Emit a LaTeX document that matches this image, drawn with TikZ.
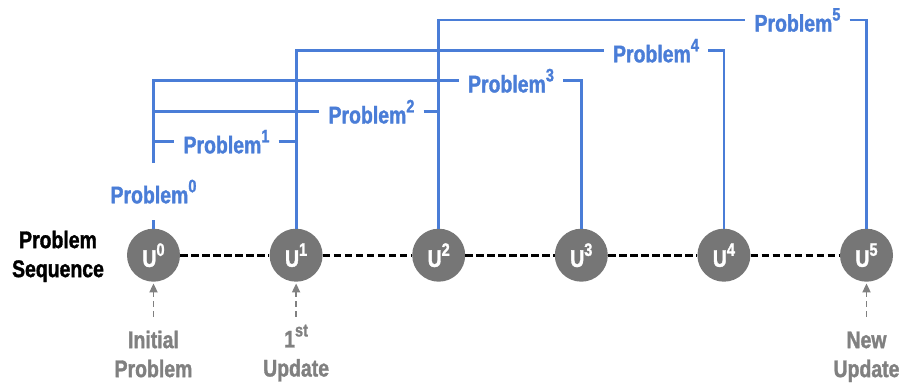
\documentclass[tikz,border=0pt]{standalone}
\usepackage{fontspec}
\setmainfont{Liberation Sans}[FakeStretch=0.81, BoldFeatures={FakeBold=1.4}]
\usetikzlibrary{arrows.meta}
\definecolor{pblue}{RGB}{74,125,215}
\definecolor{cgray}{RGB}{118,118,118}
\definecolor{tgray}{RGB}{128,128,128}
\newcommand{\psup}[1]{\raisebox{11pt}{\fontsize{18}{18}\selectfont #1}}
\begin{document}
\begin{tikzpicture}[x=1pt,y=-1pt,
  txt/.style={font=\fontsize{24}{29}\selectfont\bfseries},
  ucirc/.style={circle, fill=cgray, minimum size=53pt, inner sep=0pt, txt, text=white},
  plabel/.style={txt, text=pblue, inner xsep=9pt, inner ysep=0pt},
  bline/.style={pblue, line width=2.8pt},
  seq/.style={black, line width=3pt, dash pattern=on 7.5pt off 3.5pt},
  upd/.style={tgray, line width=1.8pt, dash pattern=on 6pt off 4pt, -{Triangle[length=9pt,width=8pt]}},
  glabel/.style={txt, text=tgray, align=center, inner sep=0pt, anchor=north},
]
\useasboundingbox (0,0) rectangle (901,383);
% sequence circles
\foreach \k/\x in {0/153.5,1/296.1,2/438.7,3/581.3,4/723.9,5/866.5}
  \node[ucirc] (U\k) at (\x,255.2) {U\psup{\k}};
\foreach \a/\b in {0/1,1/2,2/3,3/4,4/5}
  \draw[seq] (U\a.east) -- (U\b.west);
% problem labels
\node[plabel, inner ysep=16.5pt] (P0) at (153.5,191.6) {Problem\psup{0}};
\node[plabel] (P1) at (226.5,141.7) {Problem\psup{1}};
\node[plabel] (P2) at (371.5,111.7) {Problem\psup{2}};
\node[plabel] (P3) at (511,80.7) {Problem\psup{3}};
\node[plabel] (P4) at (656,50.7) {Problem\psup{4}};
\node[plabel] (P5) at (797.5,20) {Problem\psup{5}};
% blue connectors
\draw[bline] (U0.north) -- (P0.south);
\draw[bline] (P0.north) -- (P0.north |- P3) -- (P3.west);
\draw[bline] (P0.north |- P1) -- (P1.west);
\draw[bline] (P1.east) -- (U1.north |- P1);
\draw[bline] (P0.north |- P2) -- (P2.west);
\draw[bline] (P2.east) -- (U2.north |- P2);
\draw[bline] (U1.north) -- (U1.north |- P4) -- (P4.west);
\draw[bline] (U2.north) -- (U2.north |- P5) -- (P5.west);
\draw[bline] (P3.east) -| (U3.north);
\draw[bline] (P4.east) -| (U4.north);
\draw[bline] (P5.east) -| (U5.north);
% side label
\node[txt, align=center, inner sep=0pt, anchor=north] (PS) at (58,230.5) {Problem\\Sequence};
% gray labels
\node[glabel] (L0) at (153.5,324.5) {\vphantom{\psup{1}}Initial\\Problem};
\node[glabel] (L1) at (296.1,324.5) {1\psup{st}\\Update};
\node[glabel] (L5) at (866.5,324.5) {\vphantom{\psup{1}}New\\Update};
\foreach \k in {0,1,5}
  \draw[upd, shorten <=8pt, shorten >=1.5pt] (L\k.north) -- (U\k.south);
\end{tikzpicture}
\end{document}
